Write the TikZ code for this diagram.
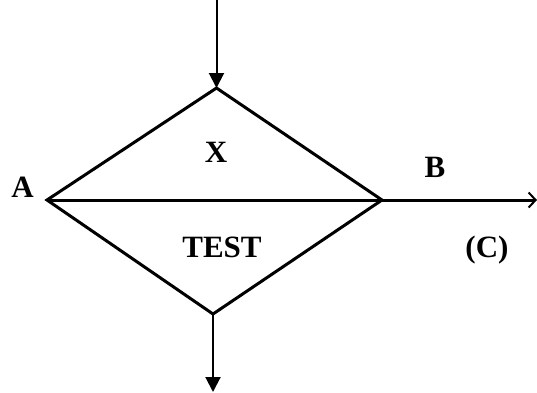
\documentclass[tikz,border=0pt]{standalone}
\usepackage{fontspec}
\setmainfont{Liberation Serif}
\usetikzlibrary{arrows.meta}
\begin{document}
\begin{tikzpicture}[x=1pt,y=-1pt,
  lbl/.style={inner sep=0pt,anchor=base,font=\fontsize{31}{31}\selectfont\bfseries},
  thick line/.style={line width=3pt,line join=miter,line cap=butt},
  flow/.style={line width=2pt,-{Triangle[length=15pt,width=15pt]}},
  outflow/.style={line width=3pt,-{Straight Barb[length=7pt,width=15pt,line width=2pt]}}]
\useasboundingbox (0,0) rectangle (537,392);
\coordinate (in) at (216.5,0);
\coordinate (T) at (216.5,88);
\coordinate (L) at (47,200);
\coordinate (R) at (382,200);
\coordinate (Bt) at (213,314);
\coordinate (out) at (213,392);
\coordinate (end) at (537,200);
\draw[thick line] (L) -- (T) -- (R) -- (Bt) -- cycle;
\draw[outflow] (L) -- (end);
\draw[flow] (in) -- (T);
\draw[flow] (Bt) -- (out);
\node[lbl] (a) at (22.5,197) {A};
\node[lbl] (x) at (216,162) {X};
\node[lbl] (b) at (435,177) {B};
\node[lbl] (test) at (222,257) {TEST};
\node[lbl] (c) at (487,257) {(C)};
\end{tikzpicture}
\end{document}
